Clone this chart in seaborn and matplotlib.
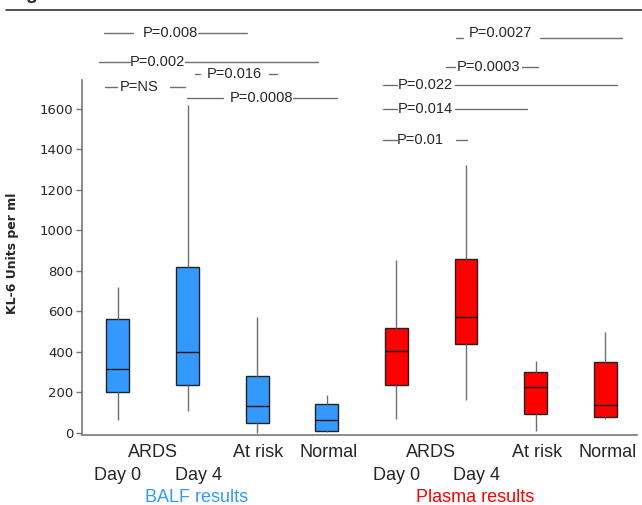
import numpy as np
import pandas as pd
import matplotlib
matplotlib.use('Agg')
import matplotlib.pyplot as plt
from matplotlib.lines import Line2D
import seaborn as sns

# groups, left to right
groups = ['BALF Day 0', 'BALF Day 4', 'BALF At risk', 'BALF Normal',
          'Plasma Day 0', 'Plasma Day 4', 'Plasma At risk', 'Plasma Normal']
sample = ['BALF'] * 4 + ['Plasma'] * 4

# five-number summaries (KL-6 units per ml)
whisker_low = [64, 109, 0, 3, 69, 163, 10, 69]
q1 = [202, 237, 49, 10, 237, 440, 94, 79]
median = [316, 400, 133, 64, 405, 573, 227, 138]
q3 = [563, 820, 282, 143, 518, 859, 301, 351]
whisker_high = [721, 1620, 573, 188, 854, 1323, 356, 499]

yticks = [0, 200, 400, 600, 800, 1000, 1200, 1400, 1600]

# p-value labels
p_labels = ['P=0.008', 'P=0.002', 'P=0.016', 'P=NS', 'P=0.0008',
            'P=0.0027', 'P=0.0003', 'P=0.022', 'P=0.014', 'P=0.01']

# build long table: 5 points per group gives exact quartiles with whis=(0,100)
rows = []
for i, g in enumerate(groups):
    for v in [whisker_low[i], q1[i], median[i], q3[i], whisker_high[i]]:
        rows.append({'group': g, 'sample': sample[i], 'value': v})
df = pd.DataFrame(rows)

sns.set_theme(style='white')
plt.rcParams['font.family'] = ['Liberation Sans', 'DejaVu Sans']

fig = plt.figure(figsize=(6.42, 5.05), dpi=100)
ax = fig.add_axes([82 / 642, 1 - 435 / 505, 555 / 642, 355 / 505])

sns.boxplot(data=df, x='group', y='value', hue='sample', order=groups,
            palette={'BALF': '#3399FF', 'Plasma': '#FF0000'}, saturation=1,
            dodge=False, legend=False, width=0.33, whis=(0, 100),
            showfliers=False, showcaps=False, linecolor='#222222', linewidth=1,
            whiskerprops={'color': '#6e6e6e', 'linewidth': 1},
            medianprops={'color': '#111111', 'linewidth': 1},
            ax=ax)

ax.set_xlim(-0.517, 7.457)
ax.set_ylim(-10, 1743)
ax.set_xticks([])
ax.set_xlabel('')
ax.set_yticks(yticks)
ax.set_yticklabels([str(t) for t in yticks], family='DejaVu Sans', fontsize=9.5)
ax.tick_params(axis='y', left=True, length=4, width=1, color='#777777', pad=2)
for s in ['top', 'right']:
    ax.spines[s].set_visible(False)
for s in ['left', 'bottom']:
    ax.spines[s].set_color('#777777')
    ax.spines[s].set_linewidth(1.2)

ax.set_ylabel('KL-6 Units per ml', family='DejaVu Sans', fontweight='bold', fontsize=9)
ax.yaxis.set_label_coords(-0.1135, 0.513)

# category labels under the axis
tr = ax.get_xaxis_transform()
for start, name, col in [(0, 'BALF results', '#3399FF'), (4, 'Plasma results', '#FF0000')]:
    ax.text(start + 0.5, -0.049, 'ARDS', transform=tr, ha='center', va='center', fontsize=13)
    ax.text(start, -0.113, 'Day 0', transform=tr, ha='center', va='center', fontsize=13)
    ax.text(start + 1.15, -0.113, 'Day 4', transform=tr, ha='center', va='center', fontsize=13)
    ax.text(start + 2.02, -0.049, 'At risk', transform=tr, ha='center', va='center', fontsize=13)
    ax.text(start + 3.03, -0.049, 'Normal', transform=tr, ha='center', va='center', fontsize=13)
    ax.text(start + 1.13, -0.175, name, transform=tr, ha='center', va='center',
            fontsize=13, color=col)

# p-value brackets: (y line, text x, text y, left segment, right segment)
p_layout = [
    (1975, 0.75, 1975, (-0.20, 0.22), (1.15, 1.85)),
    (1832, 0.57, 1832, (-0.27, 0.17), (0.96, 2.87)),
    (1773, 1.67, 1773, (1.11, 1.18), (2.17, 2.28)),
    (1709, 0.30, 1709, (-0.19, -0.01), (0.75, 0.96)),
    (1654, 2.06, 1654, (0.99, 1.51), (2.51, 3.15)),
    (1951, 5.50, 1975, (4.86, 4.96), (6.06, 7.24)),
    (1807, 5.32, 1807, (4.71, 4.84), (5.80, 6.03)),
    (1719, 4.42, 1719, (3.81, 4.01), (4.84, 7.17)),
    (1600, 4.42, 1600, (3.81, 4.01), (4.84, 5.88)),
    (1447, 4.35, 1447, (3.81, 4.01), (4.86, 5.01)),
]
for lab, (ly, tx, ty, left, right) in zip(p_labels, p_layout):
    for seg in (left, right):
        ax.plot(seg, [ly, ly], color='#6e6e6e', lw=1, clip_on=False)
    ax.text(tx, ty, lab, ha='center', va='center', fontsize=10.5, clip_on=False)

# header rule and clipped figure letter at the very top
fig.add_artist(Line2D([6 / 642, 1], [1 - 10 / 505, 1 - 10 / 505], color='#222222', lw=1.1))
fig.text(31 / 642, 1 + 1.3 / 505, 'g', ha='center', va='baseline', fontsize=14, fontweight='bold')

fig.savefig('out.png', dpi=100)
